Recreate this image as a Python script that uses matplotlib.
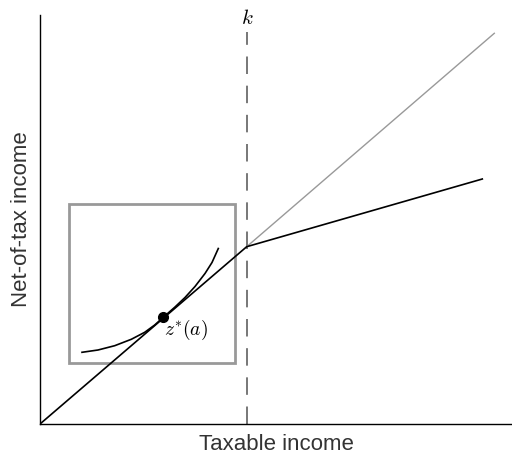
import matplotlib
matplotlib.use("Agg")
import matplotlib.pyplot as plt
from matplotlib.patches import Rectangle

plt.rcParams["mathtext.fontset"] = "cm"

# budget set (data units, origin at lower left of the axes)
kink = (206.7, 177.3)
budget_x = [0, kink[0], 442.3]
budget_y = [0, kink[1], 245.0]
# no-notch continuation of the first segment
linear_x = [kink[0], 454.3]
linear_y = [kink[1], 390.7]

# indifference curve
curve_x = [42.0, 58.0, 74.7, 91.3, 104.7, 114.7, 123.3, 135.0, 145.0, 155.0, 165.0, 172.0, 178.3]
curve_y = [71.7, 74.0, 78.3, 84.7, 91.7, 99.0, 106.7, 117.0, 126.5, 137.5, 150.5, 161.5, 175.5]

tangent = (123.3, 106.7)
box_x0, box_y0, box_x1, box_y1 = 29.0, 61.0, 195.0, 220.0

fig = plt.figure(figsize=(5.12, 4.57), dpi=100)
ax = fig.add_axes([40 / 512, 33 / 457, 472 / 512, 409 / 457])
ax.set_xlim(0, 472)
ax.set_ylim(0, 409)

for side in ["top", "right"]:
    ax.spines[side].set_visible(False)
for side in ["left", "bottom"]:
    ax.spines[side].set_linewidth(1.0)
    ax.spines[side].set_color("black")
ax.set_xticks([])
ax.set_yticks([])

# zoom box
ax.add_patch(Rectangle((box_x0, box_y0), box_x1 - box_x0, box_y1 - box_y0,
                       fill=False, edgecolor="#999999", linewidth=2.0))

# threshold k
ax.plot([kink[0], kink[0]], [0, 392], color="#777777", linewidth=1.4,
        linestyle=(0, (9, 6)))
ax.text(kink[0] + 1, 406, "$k$", ha="center", va="center", fontsize=15)

ax.plot(linear_x, linear_y, color="#999999", linewidth=1.0)
ax.plot(budget_x, budget_y, color="black", linewidth=1.2)
ax.plot(curve_x, curve_y, color="black", linewidth=1.2)

ax.plot(tangent[0], tangent[1], "o", color="black", markersize=7)
ax.text(tangent[0] + 1, tangent[1] - 1, "$z^{*}(a)$", ha="left", va="top", fontsize=14)

ax.set_xlabel("Taxable income", fontsize=16, color="#333333",
              family="Liberation Sans", labelpad=7)
ax.set_ylabel("Net-of-tax income", fontsize=16, color="#333333",
              family="Liberation Sans", labelpad=6)

fig.savefig("out.png", dpi=100)
